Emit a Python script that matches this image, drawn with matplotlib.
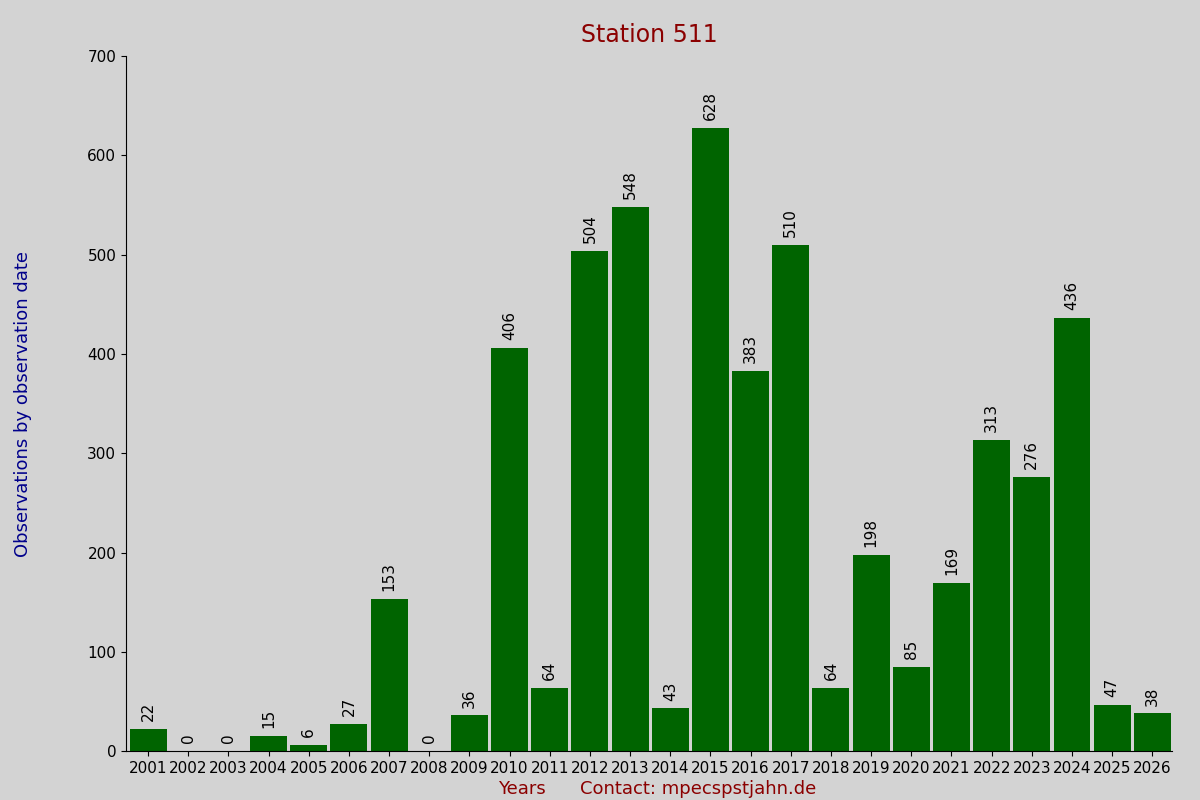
import matplotlib
matplotlib.use("Agg")
import matplotlib.pyplot as plt

years = [str(y) for y in range(2001, 2027)]
values = [22, 0, 0, 15, 6, 27, 153, 0, 36, 406, 64, 504, 548, 43, 628, 383, 510, 64, 198, 85, 169, 313, 276, 436, 47, 38]

fig = plt.figure(figsize=(12, 8), dpi=100, facecolor="#d3d3d3")
ax = fig.add_axes([0.105, 0.061, 0.872, 0.869])
ax.set_facecolor("#d3d3d3")
x = range(len(years))
ax.bar(x, values, width=0.92, color="#006400")
for i, v in zip(x, values):
    ax.text(i, v + 8, str(v), rotation=90, ha="center", va="bottom", fontsize=11, color="black")
ax.set_xlim(-0.55, len(years) - 0.5)
ax.set_ylim(0, 700)
ax.set_yticks(range(0, 701, 100))
ax.set_xticks(list(x))
ax.set_xticklabels(years, fontsize=11)
ax.tick_params(axis="y", labelsize=11)
for s in ["top", "right"]:
    ax.spines[s].set_visible(False)
ax.set_title("Station 511", color="#8b0000", fontsize=17, pad=10)
ax.set_ylabel("Observations by observation date", color="#00008b", fontsize=13, labelpad=40)
fig.text(0.435, 0.008, "Years", color="#8b0000", fontsize=13, ha="center")
fig.text(0.582, 0.008, "Contact: mpecspstjahn.de", color="#8b0000", fontsize=13, ha="center")
fig.savefig("out.png", facecolor=fig.get_facecolor())
